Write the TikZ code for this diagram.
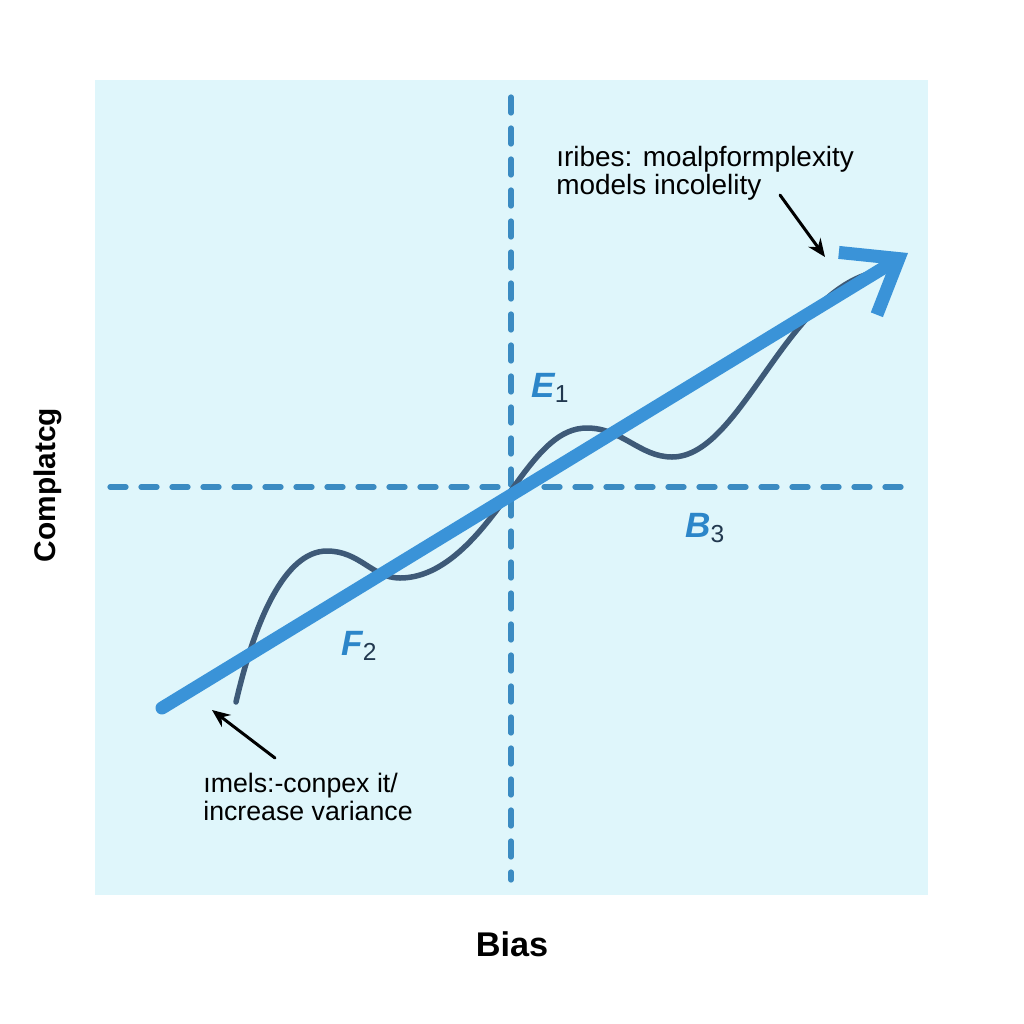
\documentclass[tikz,border=0pt]{standalone}
\usepackage{fontspec}
\setmainfont{Liberation Sans}
\usetikzlibrary{arrows.meta}
\definecolor{panel}{HTML}{DFF6FB}
\definecolor{axisblue}{HTML}{3B8BC2}
\definecolor{trendblue}{HTML}{3A93D8}
\definecolor{wave}{HTML}{3E5A78}
\definecolor{symblue}{HTML}{2C86C9}
\definecolor{subdark}{HTML}{22384F}
\newcommand\varlbl[2]{{\color{symblue}\bfseries\itshape #1}\raisebox{-3pt}{\fontsize{14}{14}\selectfont\color{subdark}#2}}
\begin{document}
\begin{tikzpicture}[x=0.2mm,y=-0.2mm,line join=round,line cap=round,>=Stealth,
  axisline/.style={axisblue,line width=1.05mm,dash pattern=on 3.2mm off 3mm},
  note/.style={align=left,inner sep=0pt,text=black},
  sym/.style={font=\fontsize{20}{20}\selectfont,inner sep=0pt,anchor=base west},
  pointer/.style={->,line width=0.6mm,>={Stealth[length=3.6mm,width=3mm]}}]
  \fill[white] (0,0) rectangle (1024,1024);
  \useasboundingbox (0,0) rectangle (1024,1024);
  \fill[panel] (95,80) rectangle (928,895);
  \path
  (511,97) coordinate (Vt)
  (511,880) coordinate (Vb)
  (110,487) coordinate (Hl)
  (916,487) coordinate (Hr)
  (162,708) coordinate (T0)
  (908,253) coordinate (T1)
  (780,195) coordinate (P1)
  (825,257) coordinate (Q1)
  (275,758) coordinate (P2)
  (212,710) coordinate (Q2)
  (236,702) coordinate (W0)
  (327,551) coordinate (W1)
  (400,578) coordinate (W2)
  (513,488) coordinate (W3)
  (587,428) coordinate (W4)
  (672,457) coordinate (W5)
  (892,270) coordinate (W6)
  ;
  \draw[axisline] (Vt)--(Vb);
  \draw[axisline] (Hl)--(Hr);
  \draw[wave,line width=1.1mm] (W0) .. controls (255,620) and (285,551) .. (W1)
    .. controls (360,551) and (372,578) .. (W2)
    .. controls (450,578) and (488,522) .. (W3)
    .. controls (540,450) and (560,428) .. (W4)
    .. controls (622,428) and (640,457) .. (W5)
    .. controls (745,457) and (790,272) .. (W6);
  \draw[trendblue,line width=2.6mm,-{Straight Barb[length=9.6mm,width=14.6mm]}] (T0)--(T1);
  \draw[pointer] (P1)--(Q1);
  \draw[pointer] (P2)--(Q2);
  \node[note,font=\fontsize{15.9}{16}\selectfont,anchor=north west] (hiNote) at (556,146) {ıribes: moalpformplexity\\models incolelity};
  \node[note,font=\fontsize{15.2}{16}\selectfont,anchor=north west] (loNote) at (203,773) {ımels:-conpex it/\\increase variance};
  \node[sym] (E1) at (531,397) {\varlbl{E}{1}};
  \node[sym] (F2) at (341,655) {\varlbl{F}{2}};
  \node[sym] (B3) at (685,537) {\varlbl{B}{3}};
  \node[font=\fontsize{19.5}{20}\selectfont\bfseries] (xlab) at (512,944) {Bias};
  \node[font=\fontsize{17}{17}\selectfont\bfseries,rotate=90] (ylab) at (48,485) {Complatcg};
\end{tikzpicture}
\end{document}
